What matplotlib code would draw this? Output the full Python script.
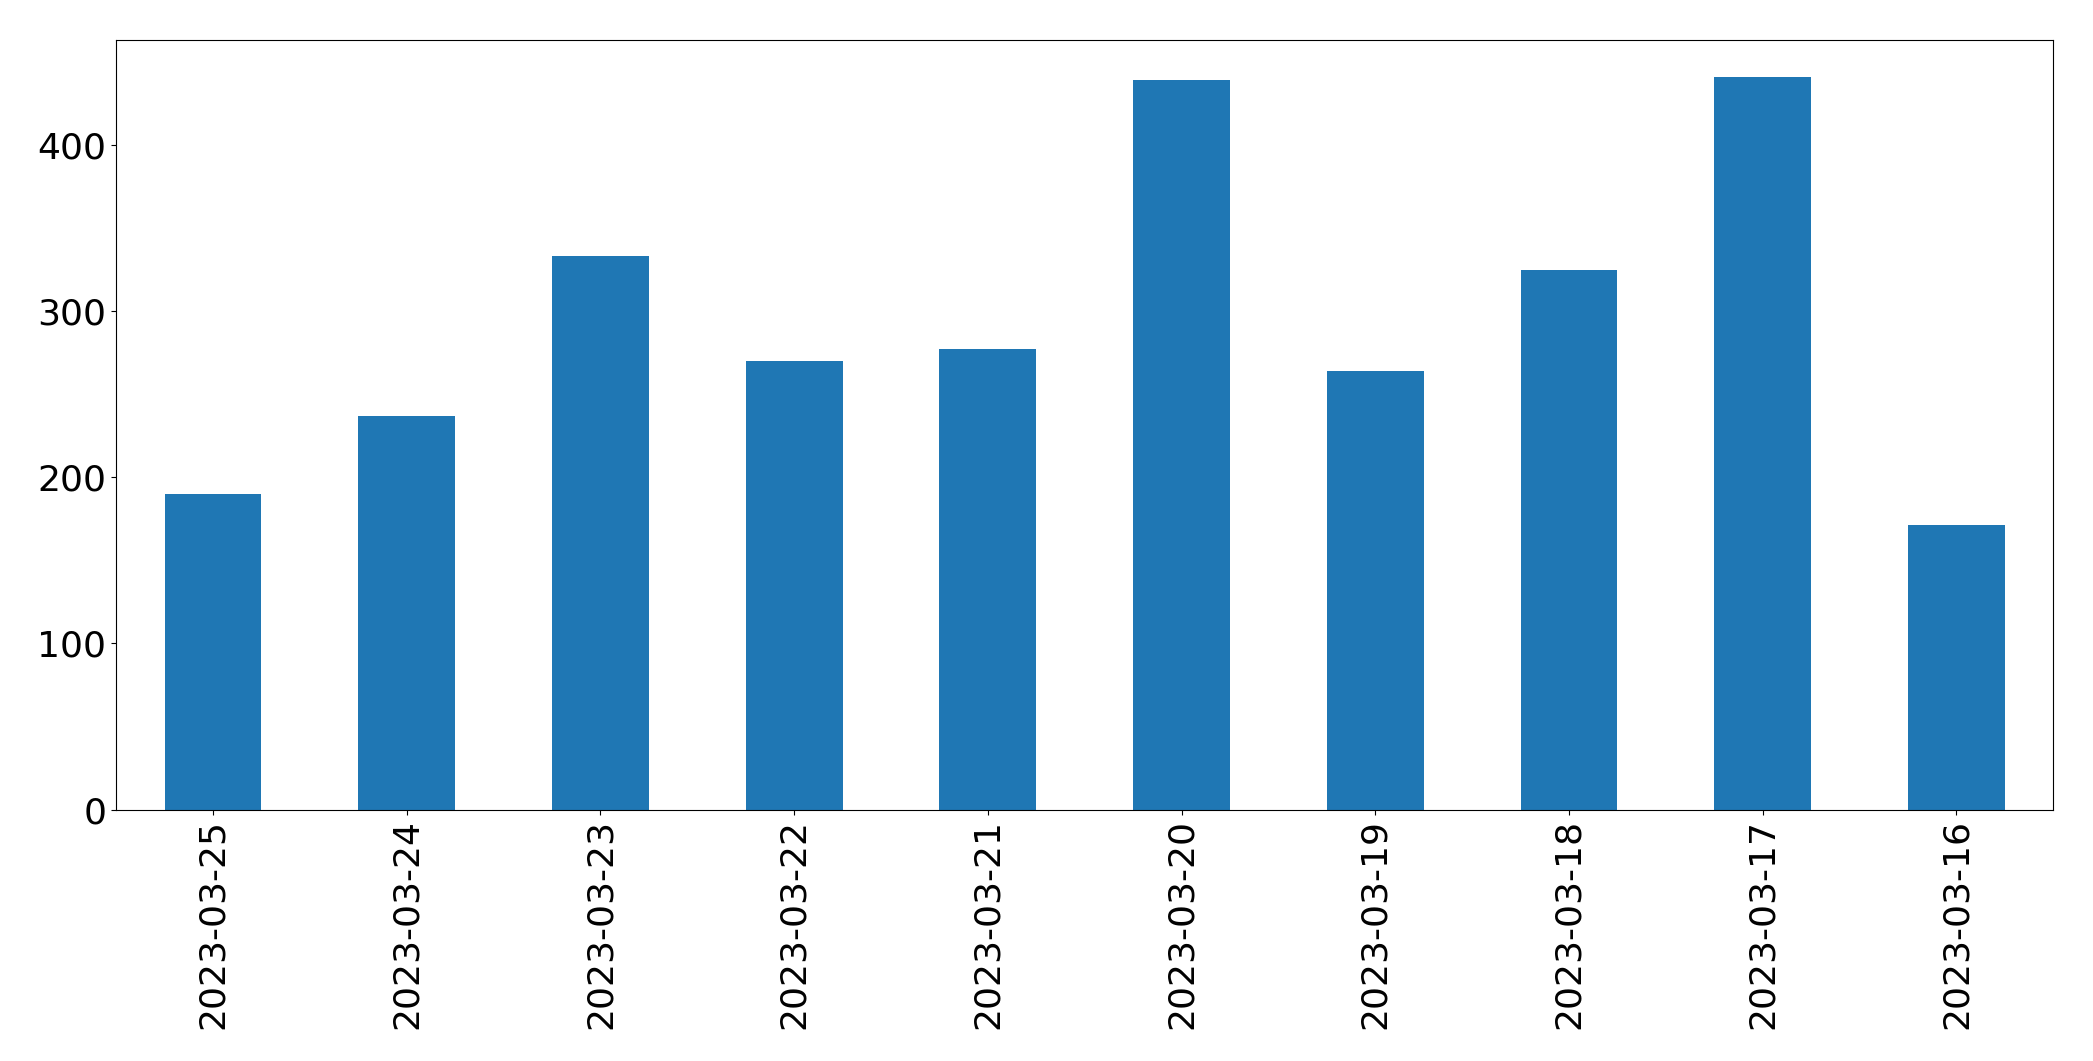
import matplotlib
matplotlib.use("Agg")
import matplotlib.pyplot as plt

# daily counts, newest first (as in the source)
dates = ['2023-03-25', '2023-03-24', '2023-03-23', '2023-03-22', '2023-03-21',
         '2023-03-20', '2023-03-19', '2023-03-18', '2023-03-17', '2023-03-16']
counts = [190, 237, 333, 270, 277, 439, 264, 325, 441, 171]

fig, ax = plt.subplots(figsize=(20.93, 10.61), dpi=100)
x = range(len(dates))
ax.bar(x, counts, width=0.5, color='#1f77b4')
ax.set_xlim(-0.5, len(dates) - 0.5)
ax.set_xticks(list(x))
ax.set_xticklabels(dates, rotation=90)
ax.tick_params(axis='both', labelsize=26)

fig.subplots_adjust(left=0.0555, right=0.981, top=0.962, bottom=0.237)
fig.savefig('out.png')
